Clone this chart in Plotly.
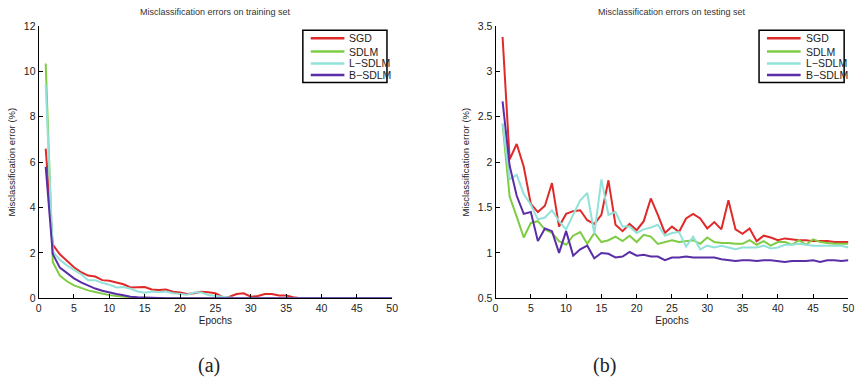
import plotly.graph_objects as go

epochs = list(range(1, 51))

train_sgd = [6.6, 2.37, 1.94, 1.65, 1.37, 1.15, 1.0, 0.96, 0.8, 0.77,
             0.7, 0.62, 0.48, 0.5, 0.5, 0.39, 0.37, 0.39, 0.29, 0.26,
             0.19, 0.22, 0.29, 0.27, 0.22, 0.06, 0.07, 0.19, 0.22, 0.07,
             0.1, 0.19, 0.19, 0.12, 0.12, 0.05, 0.0, 0, 0, 0,
             0, 0, 0, 0, 0, 0, 0, 0, 0, 0]
train_sdlm = [10.35, 1.6, 1.0, 0.75, 0.57, 0.46, 0.35, 0.28, 0.2, 0.14,
              0.1, 0.06, 0.03, 0.01, 0, 0, 0, 0, 0, 0,
              0, 0, 0, 0, 0, 0, 0, 0, 0, 0,
              0, 0, 0, 0, 0, 0, 0, 0, 0, 0,
              0, 0, 0, 0, 0, 0, 0, 0, 0, 0]
train_lsdlm = [9.42, 2.05, 1.7, 1.45, 1.25, 1.07, 0.8, 0.8, 0.68, 0.6,
               0.48, 0.5, 0.42, 0.3, 0.25, 0.3, 0.27, 0.3, 0.22, 0.2,
               0.16, 0.25, 0.25, 0.15, 0.12, 0.1, 0.04, 0, 0, 0,
               0, 0, 0, 0, 0, 0, 0, 0, 0, 0,
               0, 0, 0, 0, 0, 0, 0, 0, 0, 0]
train_bsdlm = [5.8, 1.95, 1.35, 1.1, 0.88, 0.7, 0.56, 0.43, 0.33, 0.25,
               0.19, 0.13, 0.07, 0.05, 0.03, 0.01, 0, 0, 0, 0,
               0, 0, 0, 0, 0, 0, 0, 0, 0, 0,
               0, 0, 0, 0, 0, 0, 0, 0, 0, 0,
               0, 0, 0, 0, 0, 0, 0, 0, 0, 0]

test_sgd = [3.38, 2.03, 2.2, 1.95, 1.54, 1.45, 1.52, 1.77, 1.29, 1.43,
            1.46, 1.47, 1.36, 1.32, 1.42, 1.8, 1.31, 1.24, 1.32, 1.25,
            1.35, 1.6, 1.42, 1.22, 1.29, 1.23, 1.38, 1.43, 1.38, 1.27,
            1.34, 1.26, 1.58, 1.26, 1.21, 1.27, 1.13, 1.19, 1.17, 1.14,
            1.16, 1.15, 1.14, 1.14, 1.13, 1.13, 1.13, 1.12, 1.12, 1.12]
test_sdlm = [2.42, 1.62, 1.4, 1.17, 1.33, 1.35, 1.26, 1.22, 1.13, 1.09,
             1.19, 1.23, 1.1, 1.22, 1.12, 1.14, 1.18, 1.13, 1.19, 1.12,
             1.2, 1.18, 1.1, 1.12, 1.14, 1.12, 1.13, 1.14, 1.1, 1.17,
             1.12, 1.11, 1.11, 1.1, 1.1, 1.14, 1.09, 1.13, 1.08, 1.12,
             1.12, 1.09, 1.14, 1.09, 1.15, 1.12, 1.11, 1.1, 1.1, 1.1]
test_lsdlm = [2.43, 1.81, 1.86, 1.65, 1.53, 1.37, 1.39, 1.47, 1.35, 1.26,
              1.42, 1.58, 1.66, 1.21, 1.81, 1.42, 1.45, 1.29, 1.29, 1.22,
              1.26, 1.28, 1.31, 1.19, 1.22, 1.23, 1.07, 1.18, 1.04, 1.08,
              1.06, 1.08, 1.06, 1.04, 1.06, 1.06, 1.06, 1.08, 1.05, 1.06,
              1.09, 1.09, 1.1, 1.09, 1.08, 1.08, 1.08, 1.08, 1.08, 1.06]
test_bsdlm = [2.67, 1.96, 1.63, 1.43, 1.45, 1.13, 1.27, 1.24, 1.0, 1.24,
              0.97, 1.04, 1.08, 0.94, 1.0, 0.99, 0.95, 0.96, 1.01, 0.97,
              0.98, 0.96, 0.96, 0.92, 0.95, 0.95, 0.96, 0.95, 0.95, 0.95,
              0.95, 0.93, 0.92, 0.91, 0.92, 0.92, 0.91, 0.92, 0.92, 0.91,
              0.9, 0.91, 0.91, 0.91, 0.92, 0.9, 0.92, 0.92, 0.91, 0.92]

names = ["SGD", "SDLM", "L\u2212SDLM", "B\u2212SDLM"]
colors = ["#e02a2a", "#7fcc44", "#92e2da", "#5a2ea6"]

train_series = [train_sgd, train_sdlm, train_lsdlm, train_bsdlm]
test_series = [test_sgd, test_sdlm, test_lsdlm, test_bsdlm]

W, H = 865, 385
def px(x):
    return x / W
def py(y):
    return 1 - y / H

fig = go.Figure()
for n, c, s in zip(names, colors, train_series):
    fig.add_trace(go.Scatter(x=epochs, y=s, mode="lines", name=n,
                             line=dict(color=c, width=2), xaxis="x", yaxis="y",
                             showlegend=False))
for n, c, s in zip(names, colors, test_series):
    fig.add_trace(go.Scatter(x=epochs, y=s, mode="lines", name=n,
                             line=dict(color=c, width=2), xaxis="x2", yaxis="y2",
                             showlegend=False))

tickfont = dict(family="Liberation Sans, Arial, sans-serif", size=10.5, color="#222")
axis_common = dict(showgrid=False, zeroline=False, showline=True, linecolor="#000",
                   linewidth=1, ticks="inside", ticklen=4, tickcolor="#000",
                   tickfont=tickfont, mirror=False)

# Compact MATLAB-style legend boxes (paper coordinates)
shapes = []
annotations = []
legend_boxes = [(303, 388), (764, 850)]
row_y = [33.3, 47.0, 59.3, 71.3]
for (x0, x1) in legend_boxes:
    shapes.append(dict(type="rect", xref="paper", yref="paper",
                       x0=px(x0), x1=px(x1), y0=py(79), y1=py(25),
                       line=dict(color="#000", width=1.5), fillcolor="white", layer="above"))
    for n, c, ry in zip(names, colors, row_y):
        shapes.append(dict(type="line", xref="paper", yref="paper",
                           x0=px(x0 + 8), x1=px(x0 + 42), y0=py(ry), y1=py(ry),
                           line=dict(color=c, width=2.5), layer="above"))
        annotations.append(dict(text=n, x=px(x0 + 45), y=py(ry), xref="paper", yref="paper",
                                showarrow=False, xanchor="left", yanchor="middle",
                                font=dict(family="Liberation Sans, Arial", size=10.5, color="#222")))

ydom = [py(301.7), py(20.7)]
fig.update_layout(
    width=W, height=H, margin=dict(l=0, r=0, t=0, b=0),
    paper_bgcolor="white", plot_bgcolor="white", showlegend=False,
    xaxis=dict(domain=[px(36), px(393.3)], range=[0, 50], dtick=5, anchor="y",
               title=dict(text="Epochs", font=dict(family="Liberation Sans, Arial", size=10, color="#222"), standoff=4),
               **axis_common),
    yaxis=dict(domain=ydom, range=[0, 12], dtick=2, anchor="x",
               title=dict(text="Misclassification error (%)", font=dict(family="Liberation Sans, Arial", size=9.5, color="#222"), standoff=6),
               **axis_common),
    xaxis2=dict(domain=[px(497.7), px(854.3)], range=[0, 50], dtick=5, anchor="y2",
                title=dict(text="Epochs", font=dict(family="Liberation Sans, Arial", size=10, color="#222"), standoff=4),
                **axis_common),
    yaxis2=dict(domain=ydom, range=[0.5, 3.5], dtick=0.5, anchor="x2", tickformat="~g",
                title=dict(text="Misclassification error (%)", font=dict(family="Liberation Sans, Arial", size=9.5, color="#222"), standoff=6),
                **axis_common),
    shapes=shapes,
    annotations=annotations + [
        dict(text="Misclassification errors on training set", x=px(214.6), y=py(6), xref="paper", yref="paper",
             showarrow=False, font=dict(family="Liberation Sans, Arial", size=9, color="#333"), xanchor="center", yanchor="middle"),
        dict(text="Misclassification errors on testing set", x=px(676), y=py(6), xref="paper", yref="paper",
             showarrow=False, font=dict(family="Liberation Sans, Arial", size=9, color="#333"), xanchor="center", yanchor="middle"),
        dict(text="(a)", x=px(208), y=py(371), xref="paper", yref="paper", showarrow=False,
             font=dict(family="Liberation Serif, DejaVu Serif, serif", size=20, color="#222"), xanchor="center", yanchor="middle"),
        dict(text="(b)", x=px(608), y=py(371), xref="paper", yref="paper", showarrow=False,
             font=dict(family="Liberation Serif, DejaVu Serif, serif", size=20, color="#222"), xanchor="center", yanchor="middle"),
    ],
)

fig.write_html("out.html")
